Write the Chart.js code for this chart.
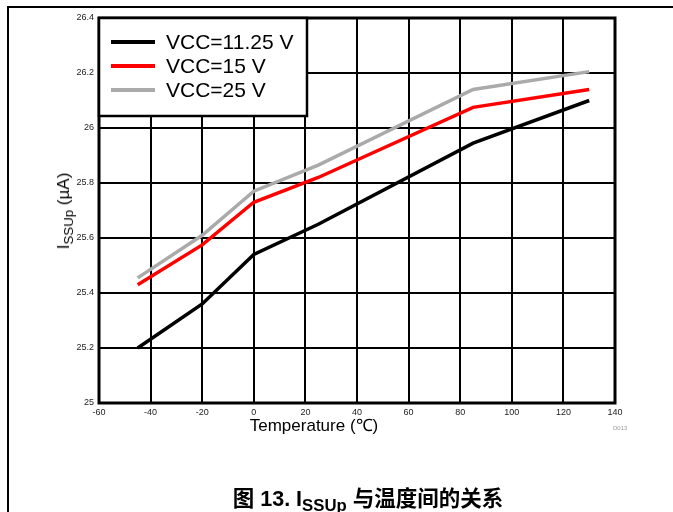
<!DOCTYPE html>
<html>
<head>
<meta charset="utf-8">
<script src="https://cdn.jsdelivr.net/npm/chart.js@4.4.1/dist/chart.umd.min.js"></script>
<style>
  html, body { margin: 0; padding: 0; background: #fff; }
  #wrap { position: relative; width: 673px; height: 512px; overflow: hidden; font-family: "Liberation Sans", Arial, sans-serif; }
  #frame { position: absolute; left: 7px; top: 6px; width: 700px; height: 600px; border-top: 2px solid #000; border-left: 2px solid #000; }
  canvas { position: absolute; left: 0; top: 0; }
  .lbl { position: absolute; white-space: nowrap; color: #000; }
  #xtitle { left: 314px; top: 424px; transform: translate(-50%, -50%); font-size: 17px; }
  #ytitle { left: 64px; top: 211px; transform: translate(-50%, -50%) rotate(-90deg); font-size: 17px; }
  #ytitle sub, #caption sub { font-size: 0.78em; vertical-align: -0.3em; line-height: 0; }
  #code { left: 613px; top: 425px; font-size: 6px; color: #999; }
  #caption { left: 368px; top: 496px; transform: translate(-50%, -50%); font-size: 21.5px; font-weight: bold;
             font-family: "Liberation Sans", "Noto Sans CJK SC", sans-serif; }
</style>
</head>
<body>
<div id="wrap">
  <div id="frame"></div>
  <canvas id="chart" width="673" height="512"></canvas>
  <div class="lbl" id="xtitle">Temperature (℃)</div>
  <div class="lbl" id="ytitle">I<sub>SSUp</sub> (µA)</div>
  <div class="lbl" id="code">D013</div>
  <div class="lbl" id="caption">图 13. I<sub>SSUp</sub> 与温度间的关系</div>
</div>
<script>
const TEMPS    = [-45, -20, 0, 25, 85, 130];
const VCC_1125 = [25.20, 25.36, 25.54, 25.65, 25.945, 26.10];
const VCC_15   = [25.43, 25.575, 25.73, 25.82, 26.075, 26.14];
const VCC_25   = [25.455, 25.61, 25.77, 25.865, 26.14, 26.205];

const SERIES = [
  { label: 'VCC=11.25 V', values: VCC_1125, color: '#000000' },
  { label: 'VCC=15 V',    values: VCC_15,   color: '#ff0000' },
  { label: 'VCC=25 V',    values: VCC_25,   color: '#aaaaaa' },
];

// plot frame + legend box drawn on top of the grid
const framePlugin = {
  id: 'frame',
  beforeDatasetsDraw(chart) {
    const { ctx, chartArea: a } = chart;
    ctx.save();
    ctx.strokeStyle = '#000';
    ctx.lineWidth = 3;
    ctx.strokeRect(a.left, a.top, a.right - a.left, a.bottom - a.top);
    ctx.restore();
  },
  afterDatasetsDraw(chart) {
    const { ctx, chartArea: a } = chart;
    const x0 = a.left, y0 = a.top, w = 208, h = 98;
    ctx.save();
    ctx.fillStyle = '#fff';
    ctx.fillRect(x0, y0, w, h);
    ctx.strokeStyle = '#000';
    ctx.lineWidth = 2.5;
    ctx.strokeRect(x0, y0, w, h);
    ctx.font = '21px "Liberation Sans", Arial, sans-serif';
    ctx.textBaseline = 'middle';
    chart.data.datasets.forEach((ds, i) => {
      const y = y0 + 24 + i * 24;
      ctx.strokeStyle = ds.borderColor;
      ctx.lineWidth = 4;
      ctx.beginPath();
      ctx.moveTo(x0 + 12, y);
      ctx.lineTo(x0 + 56, y);
      ctx.stroke();
      ctx.fillStyle = '#000';
      ctx.fillText(ds.label, x0 + 67, y + 1);
    });
    ctx.restore();
  },
};

new Chart(document.getElementById('chart'), {
  type: 'line',
  data: {
    datasets: SERIES.map((s) => ({
      label: s.label,
      data: TEMPS.map((t, i) => ({ x: t, y: s.values[i] })),
      borderColor: s.color,
      borderWidth: 3.5,
      pointRadius: 0,
      tension: 0,
      fill: false,
    })),
  },
  options: {
    responsive: false,
    animation: false,
    layout: { padding: { left: 0, top: 18, right: 58, bottom: 0 } },
    plugins: { legend: { display: false }, tooltip: { enabled: false } },
    scales: {
      x: {
        type: 'linear',
        min: -60, max: 140,
        border: { display: false },
        grid: { color: '#000', lineWidth: 2, drawTicks: false },
        ticks: {
          stepSize: 20, padding: 4, color: '#222',
          font: { family: '"Liberation Sans", Arial, sans-serif', size: 9 },
          maxRotation: 0, autoSkip: false,
        },
        afterFit: (s) => { s.height = 109; },
      },
      y: {
        min: 25, max: 26.4,
        border: { display: false },
        grid: { color: '#000', lineWidth: 2, drawTicks: false },
        ticks: {
          stepSize: 0.2, padding: 5, color: '#222',
          font: { family: '"Liberation Sans", Arial, sans-serif', size: 9 },
          callback: (v) => String(+v.toFixed(1)),
        },
        afterFit: (s) => { s.width = 99; },
      },
    },
  },
  plugins: [framePlugin],
});
</script>
</body>
</html>
